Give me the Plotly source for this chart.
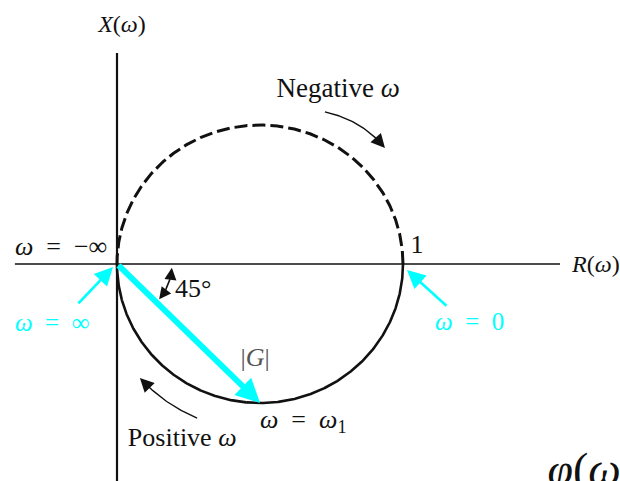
import numpy as np
import plotly.graph_objects as go

# First-order lag G(jw) = 1 / (1 + j w tau), tau = 1
tau = 1.0
theta = np.linspace(0.0, np.pi / 2 - 1e-6, 500)   # phase sweep 0 .. -90 deg
omega = np.tan(theta) / tau
G_pos = 1.0 / (1.0 + 1j * omega * tau)            # positive frequencies
G_neg = np.conj(G_pos)                            # negative frequencies

# Marked frequencies on the locus
w_zero = 1.0 / (1.0 + 0j)          # w = 0  -> R = 1
w_inf = 0.0 + 0j                   # w = +/- inf -> origin
w_one = 1.0 / (1.0 + 1j * 1.0)     # w = w1 = 1/tau -> |G| at -45 deg

# Axis extents
r_axis = [-0.357, 1.549]
x_axis = [0.759, -0.80]

serif = "Liberation Serif"
cyan = "#00ffff"
ink = "#111111"

fig = go.Figure()

# Axes
fig.add_trace(go.Scatter(x=r_axis, y=[0, 0], mode="lines",
                         line=dict(color=ink, width=1.6), hoverinfo="skip"))
fig.add_trace(go.Scatter(x=[0, 0], y=x_axis, mode="lines",
                         line=dict(color=ink, width=2.2), hoverinfo="skip"))

# Locus: negative w dashed (upper half), positive w solid (lower half)
fig.add_trace(go.Scatter(x=G_neg.real, y=G_neg.imag, mode="lines",
                         line=dict(color=ink, width=3, dash="13px,5px"),
                         hoverinfo="skip"))
fig.add_trace(go.Scatter(x=G_pos.real, y=G_pos.imag, mode="lines",
                         line=dict(color=ink, width=2.6), hoverinfo="skip"))

annotations = []


def arrow(head, tail, color, width, size):
    annotations.append(dict(text="", x=head[0], y=head[1], ax=tail[0], ay=tail[1],
                            xref="x", yref="y", axref="x", ayref="y",
                            showarrow=True, arrowhead=2, arrowsize=size,
                            arrowwidth=width, arrowcolor=color, standoff=0,
                            startstandoff=0))


# |G| vector from the origin to w = w1
arrow((w_one.real, w_one.imag), (w_inf.real, w_inf.imag), cyan, 6, 0.8)

# Pointers to w = inf and w = 0
arrow((-0.014, -0.011), (-0.140, -0.147), cyan, 2.6, 1.4)
arrow((w_zero.real + 0.014, -0.022), (1.157, -0.155), cyan, 2.6, 1.4)


def bezier(p0, c, p1, n=40):
    t = np.linspace(0, 1, n)
    xs = (1 - t) ** 2 * p0[0] + 2 * (1 - t) * t * c[0] + t ** 2 * p1[0]
    ys = (1 - t) ** 2 * p0[1] + 2 * (1 - t) * t * c[1] + t ** 2 * p1[1]
    return xs, ys


# Direction-of-travel arrows
for p0, c, p1 in [((0.727, 0.547), (0.857, 0.518), (0.937, 0.417)),
                  ((0.280, -0.554), (0.168, -0.507), (0.080, -0.410))]:
    xs, ys = bezier(p0, c, p1)
    fig.add_trace(go.Scatter(x=xs[:-3], y=ys[:-3], mode="lines",
                             line=dict(color=ink, width=1.4), hoverinfo="skip"))
    arrow((xs[-1], ys[-1]), (xs[-6], ys[-6]), ink, 1.4, 2.0)

# 45 degree angle marker (arc around the origin, heads at both ends)
ang = np.radians(np.linspace(4, 40, 40))
arc_r = 0.0 + 55 / 286 * np.cos(ang)
arc_x = 0.0 - 55 / 278 * np.sin(ang)
fig.add_trace(go.Scatter(x=arc_r[3:-3], y=arc_x[3:-3], mode="lines",
                         line=dict(color=ink, width=1.6), hoverinfo="skip"))
arrow((arc_r[0], arc_x[0]), (arc_r[6], arc_x[6]), ink, 1.6, 1.5)
arrow((arc_r[-1], arc_x[-1]), (arc_r[-7], arc_x[-7]), ink, 1.6, 1.5)

# Text labels
sp = "\u2002"
labels = [
    # text, x, y, anchor, colour, size
    ("<i>X</i>(<i>ω</i>)", 0.0175, 0.855, "middle center", ink, 24),
    ("<i>R</i>(<i>ω</i>)", 1.591, -0.008, "middle right", ink, 24),
    ("Negative <i>ω</i>", 0.773, 0.626, "middle center", ink, 27),
    ("1", 1.049, 0.064, "middle center", ink, 26),
    (f"<i>ω</i>{sp}={sp}−∞", -0.357, 0.055, "middle right", ink, 26),
    (f"<i>ω</i>{sp}={sp}∞", -0.357, -0.219, "middle right", cyan, 25),
    (f"<i>ω</i>{sp}={sp}0", 1.112, -0.216, "middle right", cyan, 25),
    ("45°", 0.203, -0.095, "middle right", ink, 26),
    ("|<i>G</i>|", 0.483, -0.343, "middle center", "#555555", 26),
    (f"<i>ω</i>{sp}={sp}<i>ω</i><sub>1</sub>", 0.50, -0.566, "middle right", ink, 26),
    ("Positive <i>ω</i>", 0.038, -0.632, "middle right", ink, 26),
    ("<i>φ</i>(<i>ω</i>)", 1.505, -0.752, "middle right", ink, 46),
]
for text, x, y, pos, color, size in labels:
    fig.add_trace(go.Scatter(x=[x], y=[y], mode="text", text=[text],
                             textposition=pos, hoverinfo="skip",
                             textfont=dict(family=serif, size=size, color=color)))

fig.update_layout(
    width=620, height=481, autosize=False,
    margin=dict(l=0, r=0, t=0, b=0),
    paper_bgcolor="white", plot_bgcolor="white",
    font=dict(family=serif),
    showlegend=False,
    xaxis=dict(visible=False, range=[-117 / 286, 503 / 286], fixedrange=True),
    yaxis=dict(visible=False, range=[-217 / 278, 264 / 278], fixedrange=True),
    annotations=annotations,
)

fig.write_html("out.html")
